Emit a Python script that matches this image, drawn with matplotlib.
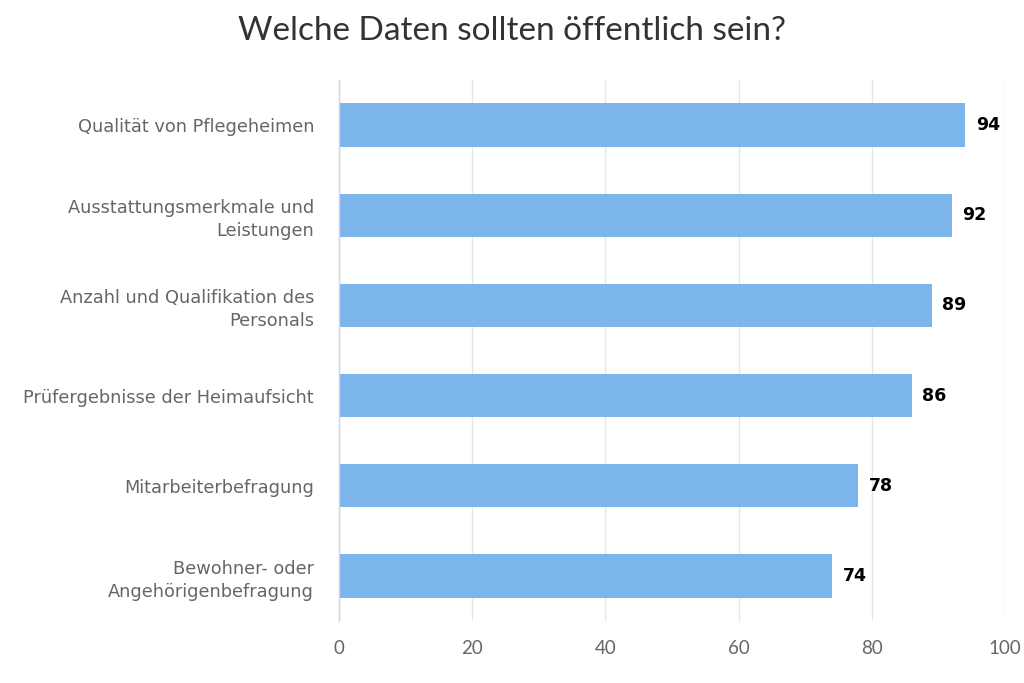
import matplotlib
matplotlib.use("Agg")
import matplotlib.pyplot as plt

categories = [
    "Qualität von Pflegeheimen",
    "Ausstattungsmerkmale und\nLeistungen",
    "Anzahl und Qualifikation des\nPersonals",
    "Prüfergebnisse der Heimaufsicht",
    "Mitarbeiterbefragung",
    "Bewohner- oder\nAngehörigenbefragung",
]
values = [94, 92, 89, 86, 78, 74]
xticks = [0, 20, 40, 60, 80, 100]
title = "Welche Daten sollten öffentlich sein?"

plt.rcParams['font.family'] = ['DejaVu Sans']

fig = plt.figure(figsize=(10.24, 6.83), dpi=100)
ax = fig.add_axes([339/1024, 1 - 621/683, (1005 - 339)/1024, (621 - 80)/683])

y = list(range(len(categories)))
ax.barh(y, values, height=0.48, color="#7cb5ec", zorder=3)
for yi, v in zip(y, values):
    ax.text(v + 1.6, yi, f"{v}", va="center", ha="left", fontsize=12.5,
            fontweight="bold", color="#000000", zorder=4)

ax.set_ylim(len(categories) - 0.5, -0.5)
ax.set_xlim(0, 100)
ax.set_xticks(xticks)
ax.set_xticklabels([str(t) for t in xticks], family=['Lato', 'DejaVu Sans'])
ax.set_yticks(y)
ax.set_yticklabels(categories, linespacing=1.35)
ax.tick_params(axis='y', length=0, pad=18, labelsize=12.8, labelcolor="#666666")
ax.tick_params(axis='x', length=0, pad=14, labelsize=13.5, labelcolor="#666666")
ax.grid(axis='x', color="#e6e6e6", linewidth=1, zorder=0)
for s in ["top", "right", "bottom"]:
    ax.spines[s].set_visible(False)
ax.spines["left"].set_color("#ccd6eb")
ax.spines["left"].set_linewidth(1)
ax.spines["left"].set_zorder(5)

fig.text(0.5, 1 - 31/683, title, ha="center", va="center", fontsize=24,
         color="#333333", family=['Lato', 'DejaVu Sans'])

fig.savefig("out.png", dpi=100, facecolor="white")
